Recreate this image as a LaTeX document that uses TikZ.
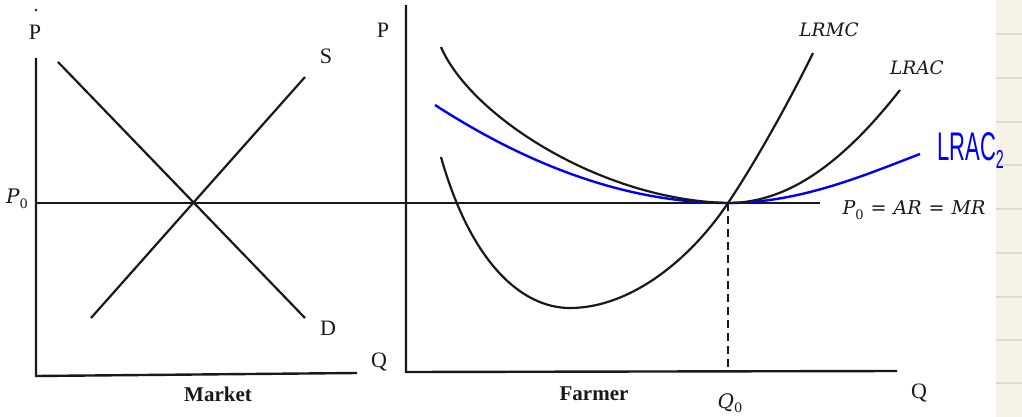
\documentclass[tikz,border=0pt]{standalone}
\usepackage{fontspec}
\setmainfont{Liberation Serif}
\newfontfamily\handfont{Liberation Sans}
\newfontfamily\cambriaish{DejaVu Serif}
\definecolor{cream}{RGB}{246,244,233}
\definecolor{creamline}{RGB}{222,220,208}
\definecolor{ink}{RGB}{25,25,25}
\definecolor{handblue}{RGB}{0,0,250}
\newcommand{\subz}{\raisebox{-4.5pt}{\upshape\fontsize{13}{13}\selectfont 0}}
\newcommand{\eqsign}{\hspace{7pt}{\upshape =}\hspace{7pt}}
\begin{document}
\begin{tikzpicture}[x=1pt,y=-1pt,
  ax/.style={line width=2.4pt, ink},
  curve/.style={line width=2.2pt, ink},
  bluecurve/.style={line width=2.4pt, handblue},
  lbl/.style={font=\fontsize{22}{26}\selectfont, inner sep=0pt, text=ink},
  boldlbl/.style={font=\fontsize{21}{25}\selectfont\bfseries, inner sep=0pt, text=ink},
  mlbl/.style={font=\cambriaish\itshape\fontsize{18.5}{22}\selectfont, inner sep=0pt, text=ink}]
\useasboundingbox (0,0) rectangle (1022,417);
\fill[white] (0,0) rectangle (1022,417);
% notebook margin panel
\fill[cream] (996,0) rectangle (1022,417);
\foreach \yy in {34,78,122,165,209,253,297,340,383}
  \draw[creamline, line width=1.3pt] (996,\yy) -- (1022,\yy);

% coordinates
\coordinate (LT) at (36,58);
\coordinate (LO) at (36,376);
\coordinate (LX) at (357,373);
\coordinate (RT) at (406,5);
\coordinate (RO) at (406,372);
\coordinate (RX) at (897,371);
\coordinate (PL) at (36,203);
\coordinate (PR) at (820,203);
\coordinate (D1) at (58,62);
\coordinate (D2) at (305,318);
\coordinate (S1) at (91,318);
\coordinate (S2) at (305,77);
\coordinate (E) at (728,203);
\coordinate (Q0b) at (728,372);

% small dot
\fill[ink] (36,10) circle (1.3);

% axes
\draw[ax] (LT) -- (LO) -- (LX);
\draw[ax] (RT) -- (RO) -- (RX);
\draw[ax] (PL) -- (PR);

% market curves
\draw[curve] (D1) -- (D2);
\draw[curve] (S1) -- (S2);

% dashed Q0 line
\draw[ink, line width=2pt, dash pattern=on 8pt off 5pt] (E) -- (Q0b);

% LRAC2 (blue)
\draw[bluecurve] (435,105) .. controls (520,160) and (620,203) .. (E)
  .. controls (800,203) and (865,175) .. (920,154);

% LRAC
\draw[curve] (441,47) .. controls (470,115) and (600,200) .. (E)
  .. controls (790,203) and (845,160) .. (900,90);

% LRMC
\draw[curve] (441,157) .. controls (470,260) and (520,308) .. (570,308)
  .. controls (630,308) and (690,260) .. (E)
  .. controls (755,163) and (790,100) .. (813,53);

% labels
\node[lbl] (Pl) at (35,32) {P};
\node[lbl] (Pr) at (383,30) {P};
\node[lbl] (Sl) at (326,56) {S};
\node[lbl] (Dl) at (328,328) {D};
\node[lbl] (Ql) at (379,362) {Q};
\node[lbl] (Qr) at (919,393) {Q};
\node[boldlbl] (mk) at (218,394) {Market};
\node[boldlbl] (fm) at (594,394) {Farmer};
\node[mlbl, font=\cambriaish\itshape\fontsize{20}{24}\selectfont] (p0) at (17,199) {P\subz};
\node[mlbl, font=\cambriaish\itshape\fontsize{20}{24}\selectfont] (q0) at (730,403) {Q\subz};
\node[mlbl] (lrmc) at (829,30) {LRMC};
\node[mlbl] (lrac) at (917,68) {LRAC};
\node[mlbl, font=\cambriaish\itshape\fontsize{19}{23}\selectfont] (eq) at (914,210) {P\subz\eqsign AR\eqsign MR};
\node[inner sep=0pt, anchor=base west, text=handblue] (lrac2) at (937,160)
  {\scalebox{0.55}[1]{\handfont\fontsize{40}{40}\selectfont LRAC\raisebox{-9pt}{\fontsize{26}{26}\selectfont 2}}};
\end{tikzpicture}
\end{document}
